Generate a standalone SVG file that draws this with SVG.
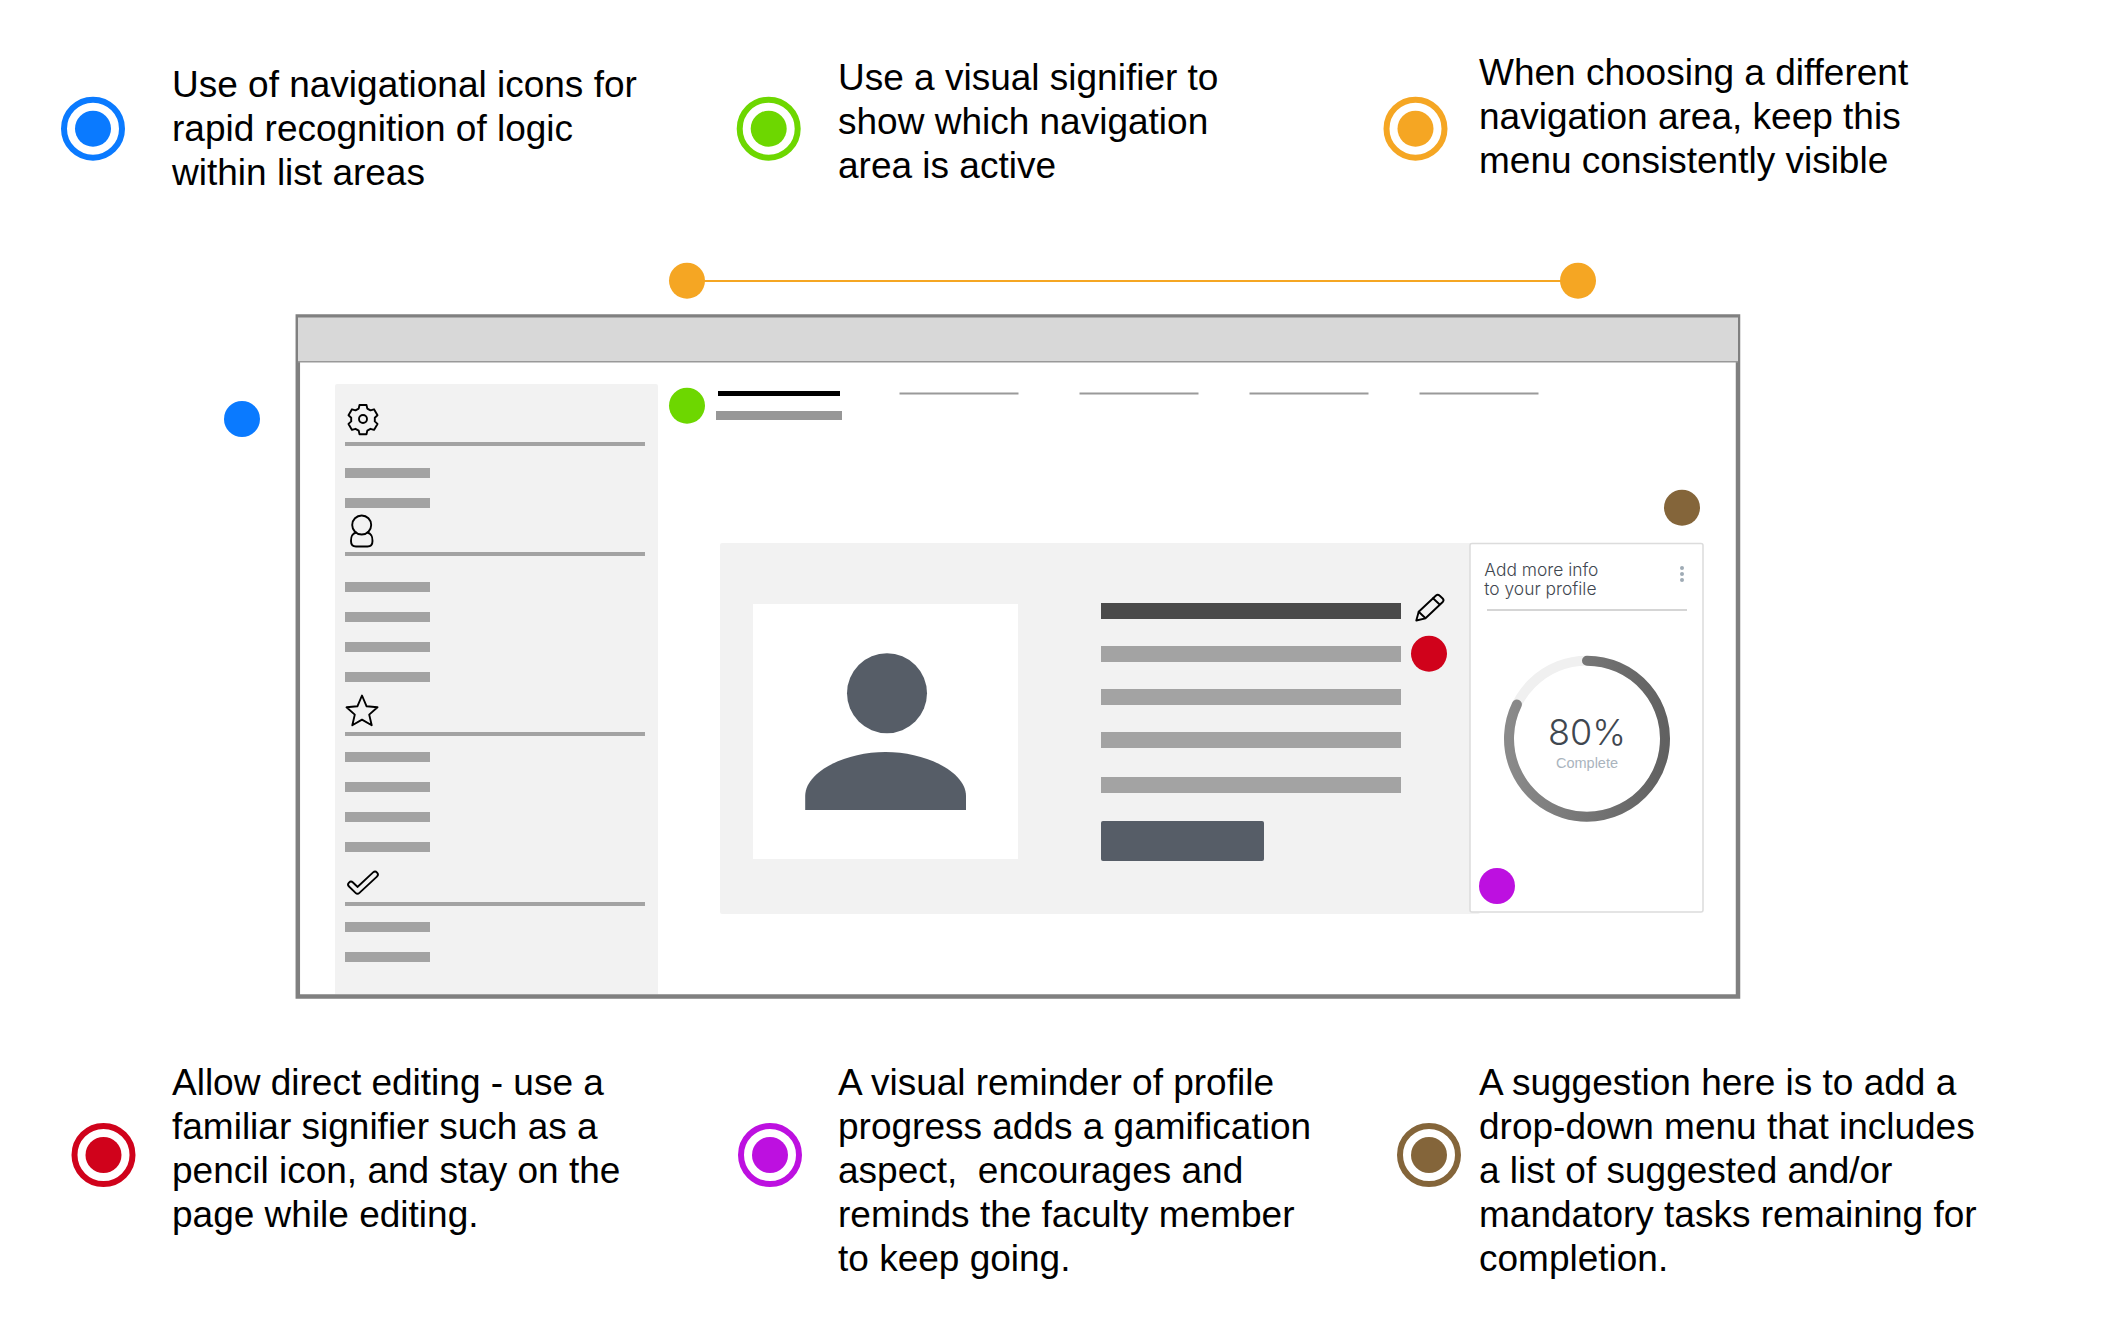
<svg xmlns="http://www.w3.org/2000/svg" width="2122" height="1326" viewBox="0 0 2122 1326">
<style>
.t{font-family:"Liberation Sans",Arial,sans-serif;font-size:37px;fill:#000}
.b{fill:#a3a3a3}
.ic{fill:none;stroke:#000;stroke-width:1.9;stroke-linejoin:round;stroke-linecap:round}
.tab{fill:#9a9a9a}
.c{font-family:Inter,"Open Sans",sans-serif;font-weight:300;fill:#3f4750}
</style>
<defs>
<linearGradient id="g" x1="1" y1="0" x2="0" y2="0"><stop offset="0" stop-color="#616161"/><stop offset="1" stop-color="#8a8a8a"/></linearGradient>
</defs>
<rect width="2122" height="1326" fill="#fff"/>
<g id="connectors"><line x1="687" y1="281" x2="1578" y2="281" stroke="#f5a623" stroke-width="2"/></g>
<g id="window">
<rect x="297.8" y="316.500" width="1440.200" height="680" fill="none" stroke="#808080" stroke-width="4.500"/>
<rect x="298" y="317.500" width="1440" height="43.500" fill="#d8d8d8"/>
<rect x="298" y="361" width="1440" height="1.500" fill="#999"/>
</g>
<g id="sidebar">
<path d="M335 386a2 2 0 0 1 2-2H656a2 2 0 0 1 2 2V994H335Z" fill="#f2f2f2"/>
<g class="b">
<rect x="345" y="442" width="300" height="4"/><rect x="345" y="552" width="300" height="4"/><rect x="345" y="732" width="300" height="4"/><rect x="345" y="902" width="300" height="4"/>
<rect x="345" y="468" width="85" height="10"/><rect x="345" y="498" width="85" height="10"/>
<rect x="345" y="582" width="85" height="10"/><rect x="345" y="612" width="85" height="10"/><rect x="345" y="642" width="85" height="10"/><rect x="345" y="672" width="85" height="10"/>
<rect x="345" y="752" width="85" height="10"/><rect x="345" y="782" width="85" height="10"/><rect x="345" y="812" width="85" height="10"/><rect x="345" y="842" width="85" height="10"/>
<rect x="345" y="922" width="85" height="10"/><rect x="345" y="952" width="85" height="10"/>
</g>
<g class="ic">
<circle cx="363" cy="419" r="4"/>
<path d="M359.500 405h7l.8 3.600 3.200 1.800 3.500-1.100 3.500 6-2.700 2.500v3.600l2.700 2.500-3.500 6-3.500-1.100-3.200 1.800-.8 3.600h-7l-.8-3.600-3.200-1.800-3.500 1.100-3.500-6 2.700-2.500v-3.600l-2.700-2.500 3.500-6 3.500 1.100 3.200-1.800Z"/>
<circle cx="361.700" cy="525" r="9.500"/>
<path d="M356 532.500C351 534 351 538 351 541c0 4 2 5.500 5 5.500h11.500c3 0 5-1.500 5-5.500 0-3 0-7-5-8.500"/>
<path d="M362 695.500l4.600 10.800 10.900 1-8.300 7.300 2.500 10.700-9.700-5.700-9.700 5.700 2.500-10.700-8.300-7.300 10.900-1Z"/>
</g>
<polyline points="351,884.500 357.500,890.800 375,874.500" fill="none" stroke="#000" stroke-width="7.500" stroke-linecap="round" stroke-linejoin="round"/>
<polyline points="351,884.500 357.500,890.800 375,874.500" fill="none" stroke="#f2f2f2" stroke-width="3.800" stroke-linecap="round" stroke-linejoin="round"/>
</g>
<g id="tabs">
<rect x="718" y="391" width="122" height="5" fill="#000"/>
<rect x="716" y="411" width="126" height="9" fill="#979797"/>
<rect class="tab" x="899.500" y="392.500" width="119" height="2"/>
<rect class="tab" x="1079.500" y="392.500" width="119" height="2"/>
<rect class="tab" x="1249.500" y="392.500" width="119" height="2"/>
<rect class="tab" x="1419.500" y="392.500" width="119" height="2"/>
</g>
<g id="profile">
<rect x="720" y="543" width="760" height="371" rx="2" fill="#f2f2f2"/>
<rect x="753" y="604" width="265" height="255" fill="#fff"/>
<circle cx="887" cy="693.300" r="40" fill="#565d67"/>
<path d="M805.200 810V796C805.200 772 845 752 885.500 752S966 772 966 796V810Z" fill="#565d67"/>
<rect x="1101" y="603" width="300" height="16" fill="#4a4a4a"/>
<g class="b"><rect x="1101" y="646" width="300" height="16"/><rect x="1101" y="689" width="300" height="16"/><rect x="1101" y="732" width="300" height="16"/><rect x="1101" y="777" width="300" height="16"/></g>
<rect x="1101" y="821" width="163" height="40" rx="2" fill="#565d67"/>
<g class="ic" stroke-width="2"><path d="M1416.300 620.500l2.400-8.700 17.300-16.300a2.500 2.500 0 0 1 3.500 0l3.200 3a2.500 2.500 0 0 1 0 3.500l-17.200 16.300Z"/><path d="M1418.700 611.800l6.300 6M1433 598.300l6.400 6"/></g>
</g>
<g id="card">
<rect x="1470" y="543.500" width="233" height="368.500" rx="2" fill="#fff" stroke="#dcdcdc" stroke-width="1.500"/>
<text class="c" x="1484.300" y="576" font-size="17.400">Add more info</text>
<text class="c" x="1484.300" y="595" font-size="17.400">to your profile</text>
<rect x="1487" y="609" width="200" height="2" fill="#d5d5d5"/>
<g fill="#9fabb5"><circle cx="1682" cy="568" r="2"/><circle cx="1682" cy="574" r="2"/><circle cx="1682" cy="580" r="2"/></g>
<circle cx="1587" cy="738.700" r="78" fill="none" stroke="#f0f0f0" stroke-width="10"/>
<path d="M1587 660.700A78 78 0 1 1 1516.900 704.500" fill="none" stroke="url(#g)" stroke-width="10" stroke-linecap="round"/>
<text class="c" x="1587" y="745" font-size="36" text-anchor="middle">80%</text>
<text x="1587" y="768" font-family="'Liberation Sans',Arial,sans-serif" font-size="14.500" fill="#aab4bd" text-anchor="middle">Complete</text>
</g>
<g id="dot-orange-left"><circle cx="687" cy="280.700" r="18" fill="#f5a623"/></g>
<g id="dot-orange-right"><circle cx="1578" cy="280.700" r="18" fill="#f5a623"/></g>
<g id="dot-green"><circle cx="687" cy="405.700" r="18" fill="#6dd700"/></g>
<g id="dot-blue"><circle cx="242" cy="419" r="18" fill="#0a7aff"/></g>
<g id="dot-brown"><circle cx="1682" cy="507.700" r="18" fill="#84653a"/></g>
<g id="dot-red"><circle cx="1429" cy="653.700" r="18" fill="#d0021b"/></g>
<g id="dot-purple"><circle cx="1497" cy="886" r="18" fill="#bd10e0"/></g>
<g id="note-blue"><circle cx="93" cy="128.700" r="29" fill="none" stroke="#0a7aff" stroke-width="6"/><circle cx="93" cy="128.700" r="18" fill="#0a7aff"/>
<text class="t"><tspan x="172" y="97">Use of navigational icons for</tspan><tspan x="172" y="141">rapid recognition of logic</tspan><tspan x="172" y="185">within list areas</tspan></text></g>
<g id="note-green"><circle cx="768.700" cy="128.700" r="29" fill="none" stroke="#6dd700" stroke-width="6"/><circle cx="768.700" cy="128.700" r="18" fill="#6dd700"/>
<text class="t"><tspan x="838" y="89.500">Use a visual signifier to</tspan><tspan x="838" y="133.500">show which navigation</tspan><tspan x="838" y="177.500">area is active</tspan></text></g>
<g id="note-orange"><circle cx="1415.500" cy="128.700" r="29" fill="none" stroke="#f5a623" stroke-width="6"/><circle cx="1415.500" cy="128.700" r="18" fill="#f5a623"/>
<text class="t"><tspan x="1479" y="84.500">When choosing a different</tspan><tspan x="1479" y="128.500">navigation area, keep this</tspan><tspan x="1479" y="172.500">menu consistently visible</tspan></text></g>
<g id="note-red"><circle cx="103.500" cy="1155" r="29" fill="none" stroke="#d0021b" stroke-width="6"/><circle cx="103.500" cy="1155" r="18" fill="#d0021b"/>
<text class="t"><tspan x="172" y="1094.500">Allow direct editing - use a</tspan><tspan x="172" y="1138.500">familiar signifier such as a</tspan><tspan x="172" y="1182.500">pencil icon, and stay on the</tspan><tspan x="172" y="1226.500">page while editing.</tspan></text></g>
<g id="note-purple"><circle cx="770" cy="1155" r="29" fill="none" stroke="#bd10e0" stroke-width="6"/><circle cx="770" cy="1155" r="18" fill="#bd10e0"/>
<text class="t" xml:space="preserve"><tspan x="838" y="1094.500">A visual reminder of profile</tspan><tspan x="838" y="1138.500">progress adds a gamification</tspan><tspan x="838" y="1182.500">aspect,  encourages and</tspan><tspan x="838" y="1226.500">reminds the faculty member</tspan><tspan x="838" y="1270.500">to keep going.</tspan></text></g>
<g id="note-brown"><circle cx="1429" cy="1155" r="29" fill="none" stroke="#84653a" stroke-width="6"/><circle cx="1429" cy="1155" r="18" fill="#84653a"/>
<text class="t"><tspan x="1479" y="1094.500">A suggestion here is to add a</tspan><tspan x="1479" y="1138.500">drop-down menu that includes</tspan><tspan x="1479" y="1182.500">a list of suggested and/or</tspan><tspan x="1479" y="1226.500">mandatory tasks remaining for</tspan><tspan x="1479" y="1270.500">completion.</tspan></text></g>
</svg>
